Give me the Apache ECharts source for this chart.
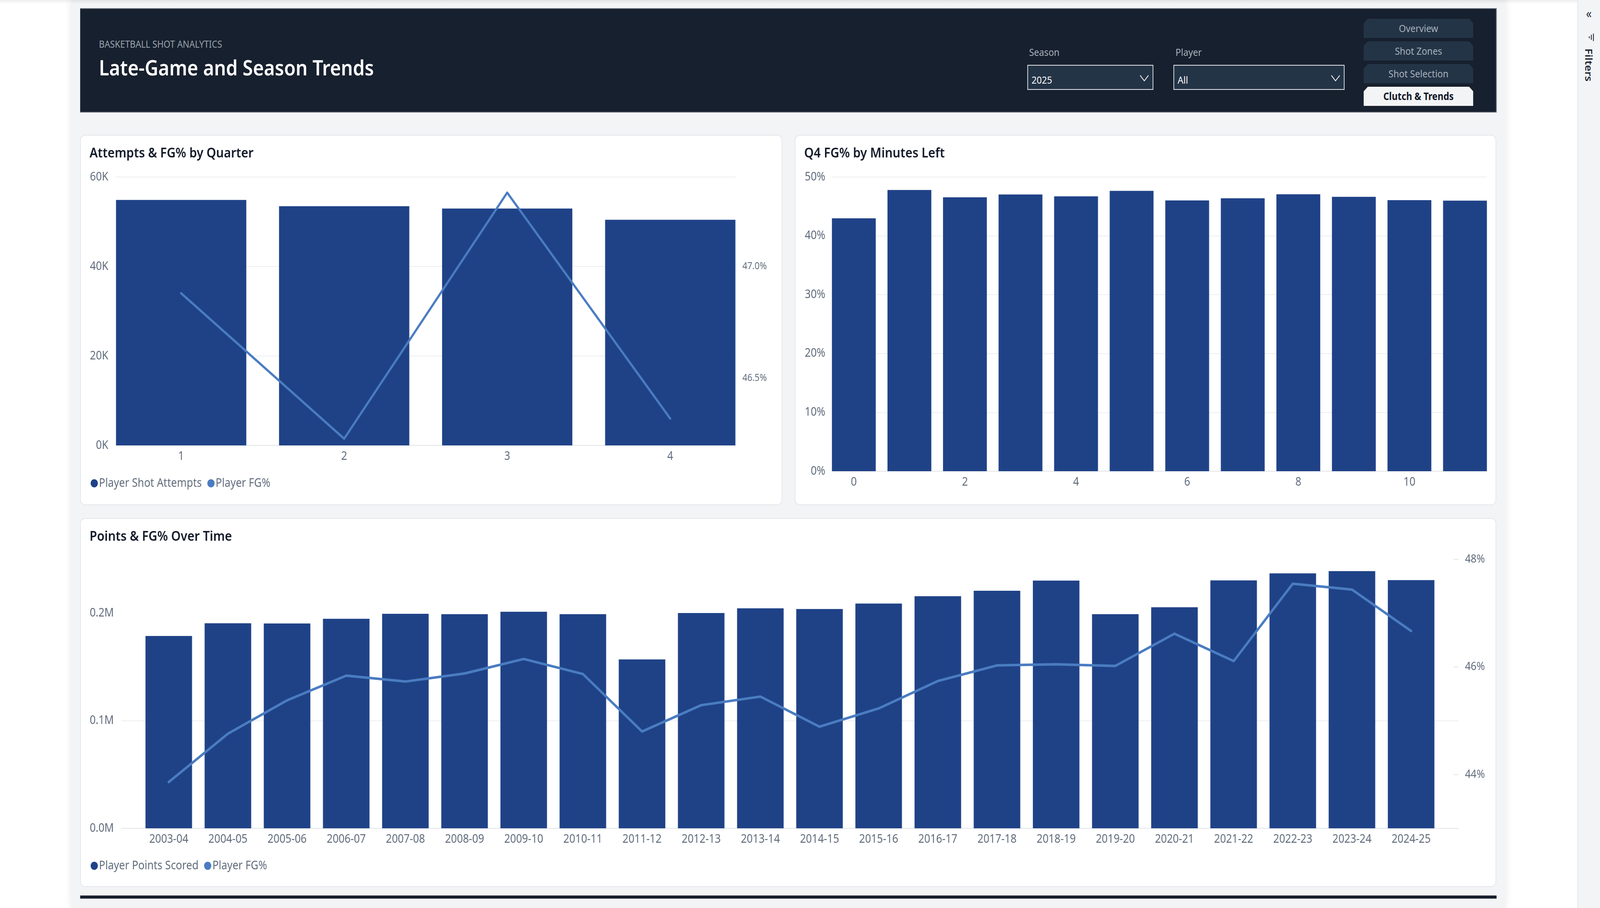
<!DOCTYPE html>
<html>
<head>
<meta charset="utf-8">
<script src="https://cdn.jsdelivr.net/npm/echarts@6/dist/echarts.min.js"></script>
<style>
*{box-sizing:border-box;}
html,body{margin:0;padding:0;background:#ffffff;overflow:hidden;font-family:'Noto Sans',sans-serif;}
#root{position:absolute;left:0;top:0;width:4610px;height:2324px;transform-origin:0 0;background:#ffffff;overflow:hidden;}
.abs{position:absolute;}
#canvas{left:206px;top:0;width:4132px;height:2324px;background:#f3f4f6;box-shadow:0 0 20px rgba(0,0,0,0.10);}
#topshade{left:0;top:0;width:4610px;height:10px;background:linear-gradient(rgba(0,0,0,0.07),rgba(0,0,0,0));}
#header{left:231px;top:21px;width:4081px;height:267px;background:#17202e;border-top:2px solid #5f6876;border-right:2px solid #5f6876;border-bottom:2px solid #5f6876;}
#sub{left:285px;top:100px;font-size:25px;line-height:25px;color:#9aa3ae;white-space:nowrap;}
#title{left:285px;top:145px;font-size:54px;line-height:54px;font-weight:600;color:#ffffff;white-space:nowrap;}
.slabel{font-size:26px;line-height:26px;color:#a7b0bb;white-space:nowrap;top:120px;}
.drop{top:166px;height:64px;background:#243447;border:2px solid #e6e8eb;}
.dtext{position:absolute;left:10px;top:23px;font-size:26px;line-height:26px;color:#ffffff;}
.chev{position:absolute;top:24px;}
.nav{left:3929px;width:316px;height:49px;background:#243447;color:#a7b1bd;font-size:26px;line-height:49px;text-align:center;white-space:nowrap;
 clip-path:polygon(12px 0,calc(100% - 12px) 0,100% 12px,100% 100%,0 100%,0 12px);}
.nav.active{background:#f3f4f6;color:#111827;font-weight:700;}
.card{background:#ffffff;border:2px solid #e3e6ea;border-radius:14px;}
#bar{left:231px;top:2292px;width:4081px;height:8px;background:#17202e;}
#pane{left:4545px;top:0;width:65px;height:2324px;background:#f3f4f6;border-left:2px solid #e2e5e9;}
#chevl{left:4562px;top:18px;font-size:32px;line-height:32px;color:#1f2937;width:32px;text-align:center;}
#filters{left:4562px;top:124px;writing-mode:vertical-rl;font-size:28px;line-height:32px;font-weight:600;color:#1f2937;white-space:nowrap;}
</style>
</head>
<body>
<div id="root">
<div id="canvas" class="abs"></div>
<div id="topshade" class="abs"></div>
<div id="header" class="abs"></div>
<div id="sub" class="abs">BASKETBALL SHOT ANALYTICS</div>
<div id="title" class="abs">Late-Game and Season Trends</div>

<div class="abs slabel" style="left:2965px;">Season</div>
<div class="abs drop" style="left:2960px;width:363px;">
  <div class="dtext">2025</div>
  <svg class="chev" style="left:322px;" width="26" height="16" viewBox="0 0 26 16"><polyline points="1,1 13,15 25,1" fill="none" stroke="#ffffff" stroke-width="2"/></svg>
</div>
<div class="abs slabel" style="left:3387px;">Player</div>
<div class="abs drop" style="left:3381px;width:493px;">
  <div class="dtext">All</div>
  <svg class="chev" style="left:452px;" width="26" height="16" viewBox="0 0 26 16"><polyline points="1,1 13,15 25,1" fill="none" stroke="#ffffff" stroke-width="2"/></svg>
</div>

<div class="abs nav" style="top:48px;">Overview</div>
<div class="abs nav" style="top:106px;">Shot Zones</div>
<div class="abs nav" style="top:164px;">Shot Selection</div>
<div class="abs nav active" style="top:222px;">Clutch &amp; Trends</div>

<div class="abs card" style="left:231px;top:345px;width:2023px;height:948px;"></div>
<div class="abs card" style="left:2290px;top:345px;width:2021px;height:948px;"></div>
<div class="abs card" style="left:231px;top:1326px;width:4080px;height:944px;"></div>

<div id="c1" class="abs" style="left:231px;top:345px;width:2023px;height:948px;"></div>
<div id="c2" class="abs" style="left:2290px;top:345px;width:2021px;height:948px;"></div>
<div id="c3" class="abs" style="left:231px;top:1326px;width:4080px;height:944px;"></div>

<div id="bar" class="abs"></div>

<div id="pane" class="abs"></div>
<div id="chevl" class="abs">&laquo;</div>
<svg class="abs" style="left:4574px;top:85px;" width="22" height="22" viewBox="0 0 22 22">
  <line x1="17" y1="1" x2="17" y2="20" stroke="#1f2937" stroke-width="2.4"/>
  <line x1="11" y1="4" x2="11" y2="17" stroke="#1f2937" stroke-width="2.4"/>
  <line x1="5" y1="8" x2="5" y2="13" stroke="#1f2937" stroke-width="2.4"/>
</svg>
<div id="filters" class="abs">Filters</div>
</div>

<script>
// ---------- DATA ----------
const quarters = ['1', '2', '3', '4'];
const quarterAttempts = [54870, 53480, 52940, 50430];
const quarterFgPct = [46.88, 46.23, 47.33, 46.32];

const minutesLeft = ['0', '1', '2', '3', '4', '5', '6', '7', '8', '9', '10', '11'];
const q4FgPct = [42.97, 47.80, 46.54, 47.03, 46.71, 47.64, 46.02, 46.38, 47.07, 46.63, 46.06, 45.98];

const seasons = ['2003-04', '2004-05', '2005-06', '2006-07', '2007-08', '2008-09', '2009-10', '2010-11',
  '2011-12', '2012-13', '2013-14', '2014-15', '2015-16', '2016-17', '2017-18', '2018-19', '2019-20',
  '2020-21', '2021-22', '2022-23', '2023-24', '2024-25'];
const seasonPoints = [178900, 190700, 190500, 194900, 199500, 199100, 201400, 199100, 157100, 200200, 204600,
  203900, 209000, 215800, 220900, 230400, 199100, 205600, 230600, 237100, 239200, 230800];
const seasonFgPct = [43.86, 44.76, 45.38, 45.84, 45.73, 45.88, 46.15, 45.87, 44.80, 45.29, 45.45,
  44.89, 45.23, 45.74, 46.03, 46.05, 46.02, 46.62, 46.11, 47.55, 47.44, 46.67];

const q1RightTicks = [46.5, 47.0];
const seasonLeftTicks = [0, 100000, 200000];
const seasonRightTicks = [44, 46, 48];

// ---------- FIT DESIGN (4610 x 2324) TO THE WINDOW ----------
const DESIGN_W = 4610, DESIGN_H = 2324;
const root = document.getElementById('root');
const sx = window.innerWidth / DESIGN_W;
const sy = window.innerHeight / DESIGN_H;
root.style.transform = 'scale(' + sx + ',' + sy + ')';

// ---------- STYLE ----------
const FONT = 'Noto Sans';
const BAR = '#1f4287';
const LINE = '#4a7cc1';
const LBL = '#5f6b7b';
const GRID = '#eceef1';
const AXIS = '#e1e4e8';

function titleOpt(text) {
  return { text: text, left: 27, top: 31, padding: 0,
    textStyle: { fontFamily: FONT, fontSize: 35, fontWeight: 600, color: '#111827' } };
}
function legendOpt(top) {
  return { left: 30, top: top, padding: 0, icon: 'circle', itemWidth: 21, itemHeight: 21, itemGap: 16,
    textStyle: { fontFamily: FONT, fontSize: 30, color: LBL, padding: [0, 0, 0, -2] } };
}
// plot-area frame axis (baseline only)
function frameX() {
  return { gridIndex: 0, type: 'value', min: 0, max: 1,
    axisLine: { show: true, onZero: false, lineStyle: { color: AXIS, width: 2 } },
    axisTick: { show: false }, axisLabel: { show: false }, splitLine: { show: false } };
}
// category axis carrying the marks
function catX(data, extraLabel) {
  return { gridIndex: 1, type: 'category', data: data,
    axisLine: { show: false }, axisTick: { show: false }, splitLine: { show: false },
    axisLabel: Object.assign({ color: LBL, fontFamily: FONT, fontSize: 30, margin: 13 }, extraLabel || {}) };
}
function hiddenY(min, max) {
  return { gridIndex: 1, type: 'value', min: min, max: max, show: false, splitLine: { show: false } };
}

// ---------- CHART 1 ----------
const c1 = echarts.init(document.getElementById('c1'));
c1.setOption({
  animation: false,
  title: titleOpt('Attempts & FG% by Quarter'),
  legend: legendOpt(877),
  grid: [
    { left: 103, right: 135, top: 108, bottom: 153, containLabel: false, outerBoundsMode: 'none' },
    { left: 56, right: 88, top: 108, bottom: 153, containLabel: false, outerBoundsMode: 'none' }
  ],
  xAxis: [frameX(), catX(quarters)],
  yAxis: [
    { gridIndex: 0, type: 'value', min: 0, max: 60000, interval: 20000,
      axisLine: { show: false }, axisTick: { show: false },
      splitLine: { show: true, lineStyle: { color: GRID, width: 2 } },
      axisLabel: { color: LBL, fontFamily: FONT, fontSize: 30, margin: 22, formatter: v => (v / 1000) + 'K' } },
    { gridIndex: 0, type: 'value', min: 46.2, max: 47.4, position: 'right',
      axisLine: { show: false }, axisTick: { show: false, customValues: q1RightTicks },
      splitLine: { show: false },
      axisLabel: { color: LBL, fontFamily: FONT, fontSize: 25, margin: 20, customValues: q1RightTicks,
        formatter: v => v.toFixed(1) + '%' } },
    hiddenY(0, 60000),
    hiddenY(46.2, 47.4)
  ],
  series: [
    { name: 'Player Shot Attempts', type: 'bar', xAxisIndex: 1, yAxisIndex: 2, data: quarterAttempts,
      barCategoryGap: '20.1%', itemStyle: { color: BAR } },
    { name: 'Player FG%', type: 'line', xAxisIndex: 1, yAxisIndex: 3, data: quarterFgPct, symbol: 'none',
      lineStyle: { color: LINE, width: 6, cap: 'round', join: 'round' }, itemStyle: { color: LINE } }
  ]
});

// ---------- CHART 2 ----------
const c2 = echarts.init(document.getElementById('c2'));
c2.setOption({
  animation: false,
  title: titleOpt('Q4 FG% by Minutes Left'),
  grid: [
    { left: 107, right: 27, top: 108, bottom: 87, containLabel: false, outerBoundsMode: 'none' },
    { left: 90, right: 10, top: 108, bottom: 87, containLabel: false, outerBoundsMode: 'none' }
  ],
  xAxis: [frameX(), catX(minutesLeft, { interval: 1 })],
  yAxis: [
    { gridIndex: 0, type: 'value', min: 0, max: 50, interval: 10,
      axisLine: { show: false }, axisTick: { show: false },
      splitLine: { show: true, lineStyle: { color: GRID, width: 2 } },
      axisLabel: { color: LBL, fontFamily: FONT, fontSize: 30, margin: 19, formatter: v => v + '%' } },
    hiddenY(0, 50)
  ],
  series: [
    { name: 'Q4 FG%', type: 'bar', xAxisIndex: 1, yAxisIndex: 1, data: q4FgPct,
      barCategoryGap: '21.1%', itemStyle: { color: BAR } }
  ]
});

// ---------- CHART 3 ----------
const c3 = echarts.init(document.getElementById('c3'));
c3.setOption({
  animation: false,
  title: titleOpt('Points & FG% Over Time'),
  legend: legendOpt(875),
  grid: [
    { left: 119, right: 108, top: 106, bottom: 150, containLabel: false, outerBoundsMode: 'none' },
    { left: 170, right: 160, top: 106, bottom: 150, containLabel: false, outerBoundsMode: 'none' }
  ],
  xAxis: [frameX(), catX(seasons)],
  yAxis: [
    { gridIndex: 0, type: 'value', min: 0, max: 250000,
      axisLine: { show: false },
      axisTick: { show: false, customValues: seasonLeftTicks },
      splitLine: { show: true, showMaxLine: false, lineStyle: { color: GRID, width: 2 } },
      axisLabel: { color: LBL, fontFamily: FONT, fontSize: 30, margin: 22, customValues: seasonLeftTicks,
        formatter: v => (v / 1e6).toFixed(1) + 'M' } },
    { gridIndex: 0, type: 'value', min: 43, max: 48, position: 'right',
      axisLine: { show: false },
      axisTick: { show: true, inside: true, length: 15, customValues: seasonRightTicks,
        lineStyle: { color: '#e3e6ea', width: 2 } },
      splitLine: { show: false },
      axisLabel: { color: LBL, fontFamily: FONT, fontSize: 29, margin: 18, customValues: seasonRightTicks,
        formatter: v => v.toFixed(0) + '%' } },
    hiddenY(0, 250000),
    hiddenY(43, 48)
  ],
  series: [
    { name: 'Player Points Scored', type: 'bar', xAxisIndex: 1, yAxisIndex: 2, data: seasonPoints,
      barCategoryGap: '21.3%', itemStyle: { color: BAR } },
    { name: 'Player FG%', type: 'line', xAxisIndex: 1, yAxisIndex: 3, data: seasonFgPct, symbol: 'none',
      lineStyle: { color: LINE, width: 6.5, cap: 'round', join: 'round' }, itemStyle: { color: LINE } }
  ]
});
</script>
</body>
</html>
